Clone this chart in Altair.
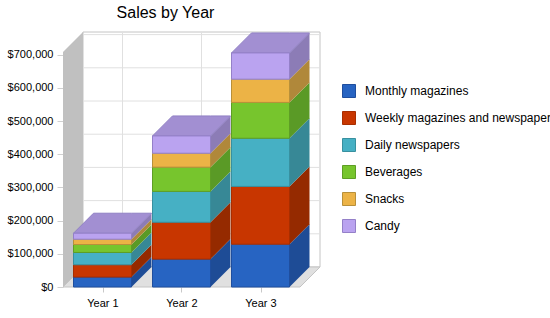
import altair as alt
import pandas as pd

# ---- data -----------------------------------------------------------------
YEARS = ["Year 1", "Year 2", "Year 3"]
SERIES = [
    "Monthly magazines",
    "Weekly magazines and newspapers",
    "Daily newspapers",
    "Beverages",
    "Snacks",
    "Candy",
]
MONTHLY = [30000, 84000, 129000]
WEEKLY = [37000, 111000, 174000]
DAILY = [37000, 93000, 145000]
BEVERAGES = [24000, 73000, 108000]
SNACKS = [16000, 42000, 70000]
CANDY = [18000, 52000, 79000]
VALUES = [MONTHLY, WEEKLY, DAILY, BEVERAGES, SNACKS, CANDY]
Y_TICKS = [0, 100000, 200000, 300000, 400000, 500000, 600000, 700000]

# ---- style ----------------------------------------------------------------
FRONT = ["#2764c2", "#c83600", "#46b0c4", "#77c52d", "#ecb346", "#baa3f0"]
SIDE = ["#1e4c96", "#952a00", "#378896", "#5a9a26", "#b0883a", "#8c7cb6"]
EDGE = ["#1f4e9e", "#a82e00", "#38909f", "#5e9e25", "#b8903a", "#9480c8"]
TOP_FILL = "#a28fd2"
TOP_EDGE = "#9080c4"
FONT = "Liberation Sans"

# ---- 3-D box geometry (category units on x, dollars on y) ------------------
PLOT_W, PLOT_H = 257, 255
CAT_PX = 79                      # pixels between year centres
DEPTH_PX = 20                    # perspective depth
DX = DEPTH_PX / CAT_PX
X0, X1 = -0.5, len(YEARS) - 0.5 + DX
Y_TOP = PLOT_H / 33.2 * 100000   # 100k == 33.2 px
DY = DEPTH_PX * Y_TOP / PLOT_H
HW = 29 / CAT_PX                 # half bar width
FRONT_R = len(YEARS) - 0.5

xs = alt.Scale(domain=[X0, X1], nice=False, zero=False)
ys = alt.Scale(domain=[0, Y_TOP], nice=False, zero=False)

year_expr = "[" + ",".join(f"'{y}'" for y in YEARS) + "][datum.value]"
X_AXIS = alt.Axis(
    values=list(range(len(YEARS))), labelExpr=year_expr, title=None,
    grid=False, domain=False, tickColor="#c8c8c8", tickSize=5,
    labelPadding=5, labelFont=FONT, labelFontSize=11, labelColor="#000000",
)
Y_AXIS = alt.Axis(
    values=Y_TICKS, format="$,.0f", title=None, grid=False, domain=False,
    tickColor="#d0d0d0", tickSize=6, labelPadding=4,
    labelFont=FONT, labelFontSize=11, labelColor="#000000",
)


def xq(field):
    return alt.X(field, scale=xs, axis=X_AXIS)


def yq(field):
    return alt.Y(field, scale=ys, axis=Y_AXIS, stack=None)


# ---- stacked segments ------------------------------------------------------
fronts, sides, tops = [], [], []
for i, year in enumerate(YEARS):
    base = 0
    for s, name in enumerate(SERIES):
        v = VALUES[s][i]
        lo, hi = base, base + v
        fronts.append({"year": year, "series": name, "x": i - HW, "x2": i + HW, "lo": lo, "hi": hi})
        key = f"{year}|{name}"
        shade = SIDE[s]
        sides.append({"key": key, "shade": shade, "x": i + HW, "lo": lo, "hi": hi})
        sides.append({"key": key, "shade": shade, "x": i + HW + DX, "lo": lo + DY, "hi": hi + DY})
        base = hi
    xl, xr, yt = i - HW, i + HW, base
    for x, a, b in [(xl, yt, yt), (xl + DX, yt, yt + DY), (xr, yt, yt + DY), (xr + DX, yt + DY, yt + DY)]:
        tops.append({"key": year, "x": x, "lo": a, "hi": b})

front_df = pd.DataFrame(fronts)
side_df = pd.DataFrame(sides)
top_df = pd.DataFrame(tops)

# ---- walls, floor and grid --------------------------------------------------
back_df = pd.DataFrame([{"x": X0 + DX, "x2": X1, "lo": DY, "hi": Y_TOP}])
hgrid_df = pd.DataFrame([{"x": X0 + DX, "x2": X1, "lo": t + DY} for t in Y_TICKS[1:]])
vgrid_df = pd.DataFrame([{"x": i + DX, "lo": DY, "hi": Y_TOP} for i in range(len(YEARS))])
wall_df = pd.DataFrame([
    {"x": X0, "lo": 0, "hi": Y_TOP - DY},
    {"x": X0 + DX, "lo": DY, "hi": Y_TOP},
])
floor_df = pd.DataFrame([
    {"x": X0, "lo": 0, "hi": 0},
    {"x": X0 + DX, "lo": 0, "hi": DY},
    {"x": FRONT_R, "lo": 0, "hi": DY},
    {"x": FRONT_R + DX, "lo": DY, "hi": DY},
])

back = alt.Chart(back_df).mark_rect(fill="white", stroke="#c4c4c4", strokeWidth=1).encode(
    x=xq("x:Q"), x2="x2:Q", y=yq("lo:Q"), y2="hi:Q",
)
hgrid = alt.Chart(hgrid_df).mark_rule(color="#e0e0e0", strokeWidth=1).encode(
    x=xq("x:Q"), x2="x2:Q", y=yq("lo:Q"),
)
vgrid = alt.Chart(vgrid_df).mark_rule(color="#e0e0e0", strokeWidth=1).encode(
    x=xq("x:Q"), y=yq("lo:Q"), y2="hi:Q",
)
wall = alt.Chart(wall_df).mark_area(color="#c0c0c0").encode(
    x=xq("x:Q"), y=yq("lo:Q"), y2="hi:Q",
)
floor = alt.Chart(floor_df).mark_area(fill="#e0e0e0", stroke="#c4c4c4", strokeWidth=1).encode(
    x=xq("x:Q"), y=yq("lo:Q"), y2="hi:Q",
)

# ---- bars ------------------------------------------------------------------
side = alt.Chart(side_df).mark_area(opacity=1).encode(
    x=xq("x:Q"), y=yq("lo:Q"), y2="hi:Q",
    color=alt.Color("shade:N", scale=None),
    detail="key:N",
)
top = alt.Chart(top_df).mark_area(fill=TOP_FILL, stroke=TOP_EDGE, strokeWidth=1).encode(
    x=xq("x:Q"), y=yq("lo:Q"), y2="hi:Q",
    detail="key:N",
)

LEGEND = alt.Legend(
    title=None, orient="none", legendX=279, legendY=52,
    symbolType="square", symbolSize=169, symbolStrokeWidth=1,
    labelFont=FONT, labelFontSize=12, labelColor="#000000",
    labelOffset=9, rowPadding=9, labelLimit=400,
)
front = alt.Chart(front_df).mark_rect(strokeWidth=1).encode(
    x=xq("x:Q"), x2="x2:Q", y=yq("lo:Q"), y2="hi:Q",
    fill=alt.Fill("series:N", scale=alt.Scale(domain=SERIES, range=FRONT), legend=LEGEND),
    stroke=alt.Stroke("series:N", scale=alt.Scale(domain=SERIES, range=EDGE), legend=LEGEND),
)

chart = alt.layer(back, hgrid, vgrid, wall, floor, side, top, front).properties(
    width=PLOT_W,
    height=PLOT_H,
    autosize=alt.AutoSizeParams(type="none"),
    padding={"left": 63, "top": 32, "right": 230, "bottom": 31},
    title=alt.Title("Sales by Year", font=FONT, fontSize=16, fontWeight="normal",
                    color="#000000", anchor="middle", dx=-26, offset=10),
    background="white",
).configure_view(stroke=None)

chart.save("out.html", embed_options={"renderer": "svg", "actions": False})
